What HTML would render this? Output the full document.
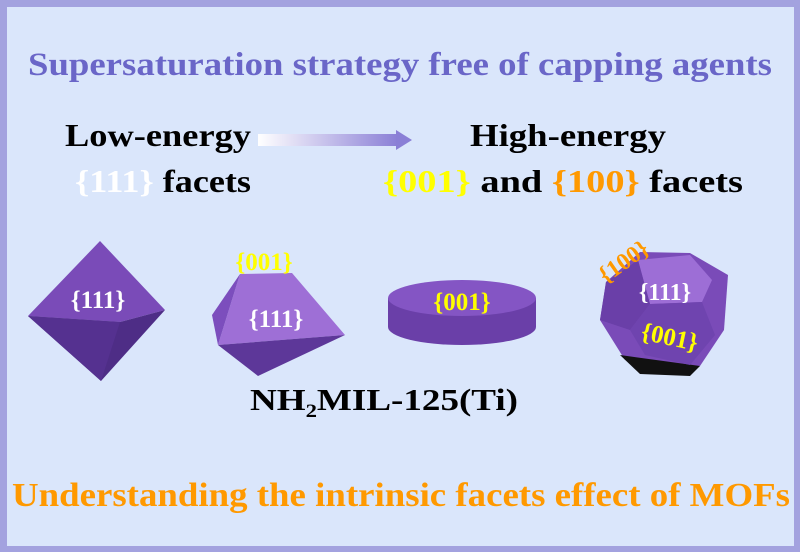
<!DOCTYPE html>
<html><head><meta charset="utf-8"><style>
html,body{margin:0;padding:0;background:#a3a2df}
svg{display:block}
text{font-family:"Liberation Serif",serif;font-weight:bold}
</style></head><body>
<svg width="800" height="552" viewBox="0 0 800 552" xmlns="http://www.w3.org/2000/svg">
<defs>
<linearGradient id="ar" x1="0" x2="1" y1="0" y2="0">
<stop offset="0" stop-color="#ffffff"/><stop offset="1" stop-color="#8a7fd6"/></linearGradient>
</defs>
<rect x="0" y="0" width="800" height="552" fill="#a3a2df"/>
<rect x="7" y="7" width="787" height="539" fill="#dae6fb"/>
<text x="28" y="75" font-size="33" fill="#6a66c8" textLength="744" lengthAdjust="spacingAndGlyphs">Supersaturation strategy free of capping agents</text>
<text x="65" y="146" font-size="32" fill="#000" textLength="186" lengthAdjust="spacingAndGlyphs">Low-energy</text>
<text x="75" y="192" font-size="32" textLength="176" lengthAdjust="spacingAndGlyphs"><tspan fill="#fff">{111}</tspan><tspan fill="#000"> facets</tspan></text>
<rect x="258" y="134" width="140" height="12" fill="url(#ar)"/>
<polygon points="396,130 412,140 396,150" fill="#8a7fd6"/>
<text x="470" y="146" font-size="32" fill="#000" textLength="196" lengthAdjust="spacingAndGlyphs">High-energy</text>
<text x="383" y="192" font-size="32" textLength="360" lengthAdjust="spacingAndGlyphs"><tspan fill="#ffff00">{001}</tspan><tspan fill="#000"> and </tspan><tspan fill="#ff9900">{100}</tspan><tspan fill="#000"> facets</tspan></text>
<!-- octahedron -->
<polygon points="100,241 28,316 120,322 165,310" fill="#7a4bb8"/>
<polygon points="28,316 120,322 165,310 101,381" fill="#4e2d86"/>
<polygon points="28,316 120,322 101,381" fill="#553190"/>
<text x="98" y="308" font-size="25" fill="#fff" font-weight="normal" text-anchor="middle">{111}</text>
<!-- truncated -->
<polygon points="240,274 292,273 345,335 218,345" fill="#9e6fd6"/>
<polygon points="212,315 240,274 218,345" fill="#7c4ebd"/>
<polygon points="218,345 345,335 258,376" fill="#5d3799"/>
<text x="264" y="270" font-size="25" fill="#ffff00" font-weight="normal" text-anchor="middle">{001}</text>
<text x="276" y="327" font-size="25" fill="#fff" font-weight="normal" text-anchor="middle">{111}</text>
<!-- disk -->
<path d="M388,298 L388,327 A74,18 0 0 0 536,327 L536,298 Z" fill="#6a3fa8"/>
<ellipse cx="462" cy="298" rx="74" ry="18" fill="#8455c4"/>
<text x="462" y="310" font-size="25" fill="#ffff00" font-weight="normal" text-anchor="middle">{001}</text>
<!-- dodecahedron -->
<polygon points="606,282 640,252 690,253 728,275 724,330 700,366 660,372 625,360 600,320" fill="#7a4bb8"/>
<polygon points="638,260 690,255 712,280 702,302 650,304" fill="#9d6ed6"/>
<polygon points="606,282 638,260 650,304 630,330 600,320" fill="#6a3fa8"/>
<polygon points="620,355 700,366 690,376 640,374" fill="#111"/>
<polygon points="650,304 702,302 715,335 690,365 645,355 630,330" fill="#6f44af"/>
<text x="665" y="300" font-size="24" fill="#fff" font-weight="normal" text-anchor="middle">{111}</text>
<text transform="translate(628,268) rotate(-35)" font-size="24" fill="#ff9900" text-anchor="middle">{100}</text>
<text transform="translate(668,345) rotate(12)" font-size="25" fill="#ffff00" text-anchor="middle">{001}</text>
<text x="250" y="410" font-size="31" fill="#000" textLength="268" lengthAdjust="spacingAndGlyphs">NH<tspan font-size="19" dy="7">2</tspan><tspan dy="-7">MIL-125(Ti)</tspan></text>
<text x="12" y="506" font-size="34" fill="#ff9900" textLength="778" lengthAdjust="spacingAndGlyphs">Understanding the intrinsic facets effect of MOFs</text>
</svg>
</body></html>
